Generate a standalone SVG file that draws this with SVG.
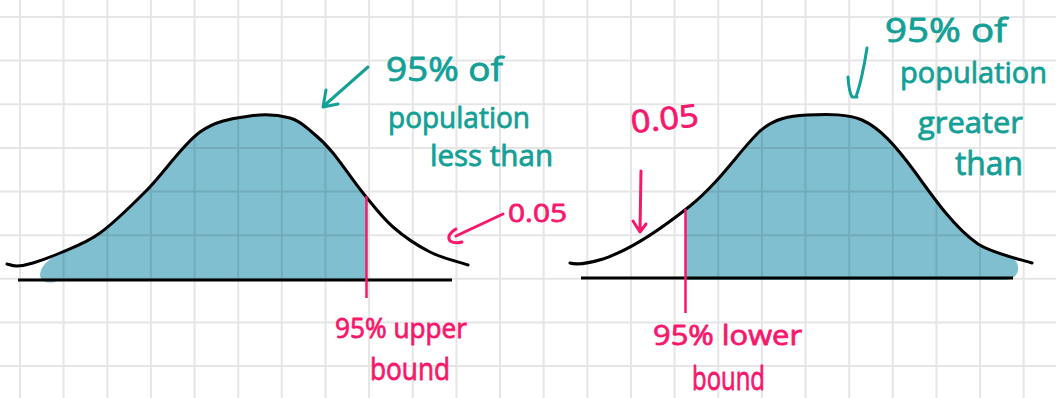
<svg xmlns="http://www.w3.org/2000/svg" width="1056" height="398" viewBox="0 0 1056 398">
<style>
.fill{fill:#7fbfcf;stroke:none}
.grid{fill:none;stroke:#000;stroke-opacity:0.1;stroke-width:2}
.curve{fill:none;stroke:#000;stroke-width:3;stroke-linecap:round;stroke-linejoin:round}
.base{fill:none;stroke:#000;stroke-width:3}
.bound{fill:none;stroke:#f7176b;stroke-width:2.5}
.pk{fill:none;stroke:#f7176b;stroke-width:3;stroke-linecap:round;stroke-linejoin:round}
.tl{fill:none;stroke:#14a096;stroke-width:3;stroke-linecap:round;stroke-linejoin:round}
text{font-family:"Open Sans","Noto Sans","DejaVu Sans",sans-serif;stroke-width:0.8;stroke-linejoin:round}
.tt{fill:#14a096;stroke:#14a096}
.pt{fill:#f7176b;stroke:#f7176b}
</style>
<rect width="1056" height="398" fill="#ffffff"/>
<g id="fills">
<path class="fill" d="M40,275 C40,266 50,258 60,253 C71.2,248 85.5,243.5 100,233 C114.5,222.5 130.3,206.8 147,190 C163.7,173.2 182.8,144.3 200,132 C217.2,119.7 235,118.3 250,116 C265,113.7 279.5,115.2 290,118 C300.5,120.8 305.8,127.2 313,133 C320.2,138.8 324.7,143 333,153 C341.3,163 353,180.7 363,193 L366.5,197 L366.5,280 L60,280 C52,284 41,284 40,275 Z"/>
<path class="fill" d="M685.5,209.5 L690,206 C720,182 740,150 760,131 C775,118 790,116 807,115 C830,114 848,114 862,120 C880,128 895,145 915,172 C935,200 955,228 978,244 C992,253 1008,255 1014,259 C1021,265 1020,280 1004,280 L685.5,280 Z"/>
</g>
<path class="grid" d="M20,0V398M63.6,0V398M107.3,0V398M150.9,0V398M194.6,0V398M238.2,0V398M281.8,0V398M325.5,0V398M369.1,0V398M412.8,0V398M456.4,0V398M500,0V398M543.7,0V398M587.3,0V398M631,0V398M674.6,0V398M718.2,0V398M761.9,0V398M805.5,0V398M849.2,0V398M892.8,0V398M936.4,0V398M980.1,0V398M1023.7,0V398M0,17H1056M0,60.6H1056M0,104.3H1056M0,147.9H1056M0,191.6H1056M0,235.2H1056M0,278.8H1056M0,322.5H1056M0,366.1H1056"/>
<g id="left-distribution">
<path class="curve" d="M7,264 C8.7,264.3 12.7,266.2 17,266 C21.3,265.8 25.8,265.2 33,263 C40.2,260.8 48.8,258 60,253 C71.2,248 85.5,243.5 100,233 C114.5,222.5 130.3,206.8 147,190 C163.7,173.2 182.8,144.3 200,132 C217.2,119.7 235,118.3 250,116 C265,113.7 279.5,115.2 290,118 C300.5,120.8 305.8,127.2 313,133 C320.2,138.8 324.7,143 333,153 C341.3,163 353,180.7 363,193 C373,205.3 381.8,217.2 393,227 C404.2,236.8 417.5,245.7 430,252 C442.5,258.3 461.7,262.8 468,265"/>
<path class="base" d="M18,280H452"/>
<path class="bound" d="M366.5,196V298"/>
</g>
<g id="right-distribution">
<path class="curve" d="M570,263 C576,265 590,263 603,259 C630,250 660,230 690,206 C720,182 740,150 760,131 C775,118 790,116 807,115 C830,114 848,114 862,120 C880,128 895,145 915,172 C935,200 955,228 978,244 C992,253 1015,258 1032,263"/>
<path class="base" d="M581,278H1013"/>
<path class="bound" d="M685.5,209V313"/>
</g>
<g id="connectors">
<path class="tl" d="M368,67 L326,104 M326,90 L323,107 L338,104"/>
<path class="pk" d="M503,214 L456,236 M456,229 Q446,235 450,241 Q455,244 462,242"/>
<path class="pk" d="M641,171 L640,231 M633,221 L640,232 L646,224"/>
<path class="tl" d="M867,48 Q862,80 856,97 M848,77 Q849,92 852,97 L857,97"/>
</g>
<g id="left-labels">
<text class="tt" x="386" y="81" font-size="32" textLength="117" lengthAdjust="spacingAndGlyphs">95% of</text>
<text class="tt" x="388" y="128" font-size="29" textLength="142" lengthAdjust="spacingAndGlyphs">population</text>
<text class="tt" x="430" y="166" font-size="29" textLength="123" lengthAdjust="spacingAndGlyphs">less than</text>
<text class="pt" x="508" y="222" font-size="26" textLength="59" lengthAdjust="spacingAndGlyphs">0.05</text>
<text class="pt" x="335" y="338" font-size="28" textLength="132" lengthAdjust="spacingAndGlyphs">95% upper</text>
<text class="pt" x="370" y="380" font-size="31" textLength="80" lengthAdjust="spacingAndGlyphs">bound</text>
</g>
<g id="right-labels">
<text class="tt" x="885" y="42" font-size="32" textLength="122" lengthAdjust="spacingAndGlyphs">95% of</text>
<text class="tt" x="900" y="83" font-size="30" textLength="147" lengthAdjust="spacingAndGlyphs">population</text>
<text class="tt" x="918" y="133" font-size="30" textLength="105" lengthAdjust="spacingAndGlyphs">greater</text>
<text class="tt" x="955" y="175" font-size="32" textLength="68" lengthAdjust="spacingAndGlyphs">than</text>
<text class="pt" x="632" y="133" font-size="31" textLength="68" lengthAdjust="spacingAndGlyphs" transform="rotate(-6 632 133)">0.05</text>
<text class="pt" x="653" y="345" font-size="28" textLength="149" lengthAdjust="spacingAndGlyphs">95% lower</text>
<text class="pt" x="692" y="390" font-size="32" textLength="73" lengthAdjust="spacingAndGlyphs">bound</text>
</g>
</svg>
